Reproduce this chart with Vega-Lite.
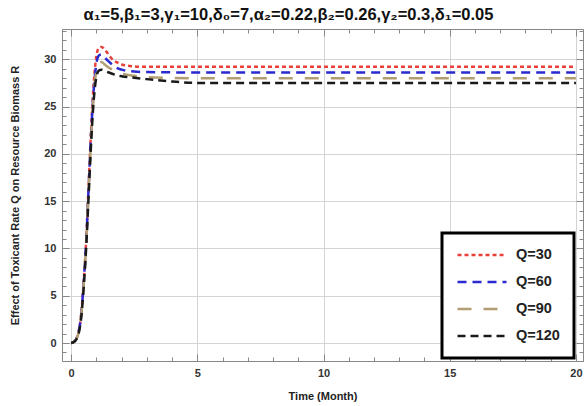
{
  "$schema": "https://vega.github.io/schema/vega-lite/v6.json",
  "autosize": {"type": "none"},
  "width": 521,
  "height": 332,
  "padding": {"left": 62, "top": 29, "right": 4, "bottom": 45},
  "background": "white",
  "title": {
    "text": "α₁=5,β₁=3,γ₁=10,δ₀=7,α₂=0.22,β₂=0.26,γ₂=0.3,δ₁=0.05",
    "font": "Liberation Sans",
    "fontSize": 16.5,
    "fontWeight": "bold",
    "color": "#111",
    "offset": 5,
    "dx": -34,
    "anchor": "middle"
  },
  "config": {
    "view": {"stroke": "#888", "strokeWidth": 1},
    "axis": {
      "labelFont": "Liberation Sans",
      "labelFontWeight": "bold",
      "labelFontSize": 11,
      "labelColor": "#333",
      "titleFont": "Liberation Sans",
      "titleFontWeight": "bold",
      "titleFontSize": 11,
      "titleColor": "#222",
      "domainColor": "#888",
      "tickColor": "#888",
      "gridColor": "#d4d4d4"
    }
  },
  "data": {"values": [
    {"t":0,"R":0,"Q":"Q=30"},{"t":0.1,"R":0.1,"Q":"Q=30"},{"t":0.2,"R":0.4,"Q":"Q=30"},{"t":0.3,"R":1.2,"Q":"Q=30"},{"t":0.4,"R":3,"Q":"Q=30"},{"t":0.5,"R":6.5,"Q":"Q=30"},{"t":0.6,"R":11,"Q":"Q=30"},{"t":0.7,"R":17,"Q":"Q=30"},{"t":0.8,"R":23,"Q":"Q=30"},{"t":0.9,"R":27.6,"Q":"Q=30"},{"t":1.0,"R":30.3,"Q":"Q=30"},{"t":1.1,"R":31.2,"Q":"Q=30"},{"t":1.2,"R":31.3,"Q":"Q=30"},{"t":1.4,"R":30.8,"Q":"Q=30"},{"t":1.6,"R":30.1,"Q":"Q=30"},{"t":1.8,"R":29.7,"Q":"Q=30"},{"t":2.0,"R":29.45,"Q":"Q=30"},{"t":2.5,"R":29.25,"Q":"Q=30"},{"t":3,"R":29.2,"Q":"Q=30"},{"t":5,"R":29.2,"Q":"Q=30"},{"t":20,"R":29.2,"Q":"Q=30"},
    {"t":0,"R":0,"Q":"Q=60"},{"t":0.1,"R":0.1,"Q":"Q=60"},{"t":0.2,"R":0.4,"Q":"Q=60"},{"t":0.3,"R":1.2,"Q":"Q=60"},{"t":0.4,"R":3,"Q":"Q=60"},{"t":0.5,"R":6.4,"Q":"Q=60"},{"t":0.6,"R":10.8,"Q":"Q=60"},{"t":0.7,"R":16.7,"Q":"Q=60"},{"t":0.8,"R":22.5,"Q":"Q=60"},{"t":0.9,"R":26.9,"Q":"Q=60"},{"t":1.0,"R":29.5,"Q":"Q=60"},{"t":1.1,"R":30.4,"Q":"Q=60"},{"t":1.2,"R":30.5,"Q":"Q=60"},{"t":1.4,"R":30.0,"Q":"Q=60"},{"t":1.6,"R":29.5,"Q":"Q=60"},{"t":1.8,"R":29.1,"Q":"Q=60"},{"t":2.0,"R":28.9,"Q":"Q=60"},{"t":2.5,"R":28.7,"Q":"Q=60"},{"t":3,"R":28.65,"Q":"Q=60"},{"t":5,"R":28.6,"Q":"Q=60"},{"t":20,"R":28.6,"Q":"Q=60"},
    {"t":0,"R":0,"Q":"Q=90"},{"t":0.1,"R":0.1,"Q":"Q=90"},{"t":0.2,"R":0.4,"Q":"Q=90"},{"t":0.3,"R":1.1,"Q":"Q=90"},{"t":0.4,"R":2.9,"Q":"Q=90"},{"t":0.5,"R":6.2,"Q":"Q=90"},{"t":0.6,"R":10.5,"Q":"Q=90"},{"t":0.7,"R":16.3,"Q":"Q=90"},{"t":0.8,"R":22,"Q":"Q=90"},{"t":0.9,"R":26.3,"Q":"Q=90"},{"t":1.0,"R":28.8,"Q":"Q=90"},{"t":1.1,"R":29.6,"Q":"Q=90"},{"t":1.2,"R":29.7,"Q":"Q=90"},{"t":1.4,"R":29.3,"Q":"Q=90"},{"t":1.6,"R":28.95,"Q":"Q=90"},{"t":1.8,"R":28.7,"Q":"Q=90"},{"t":2.0,"R":28.5,"Q":"Q=90"},{"t":2.5,"R":28.25,"Q":"Q=90"},{"t":3,"R":28.1,"Q":"Q=90"},{"t":4,"R":28.02,"Q":"Q=90"},{"t":5,"R":28.0,"Q":"Q=90"},{"t":20,"R":28.0,"Q":"Q=90"},
    {"t":0,"R":0,"Q":"Q=120"},{"t":0.1,"R":0.1,"Q":"Q=120"},{"t":0.2,"R":0.35,"Q":"Q=120"},{"t":0.3,"R":1.0,"Q":"Q=120"},{"t":0.4,"R":2.7,"Q":"Q=120"},{"t":0.5,"R":5.9,"Q":"Q=120"},{"t":0.6,"R":10.2,"Q":"Q=120"},{"t":0.7,"R":15.9,"Q":"Q=120"},{"t":0.8,"R":21.5,"Q":"Q=120"},{"t":0.9,"R":25.8,"Q":"Q=120"},{"t":1.0,"R":28.1,"Q":"Q=120"},{"t":1.1,"R":28.8,"Q":"Q=120"},{"t":1.2,"R":28.9,"Q":"Q=120"},{"t":1.4,"R":28.7,"Q":"Q=120"},{"t":1.6,"R":28.5,"Q":"Q=120"},{"t":1.8,"R":28.3,"Q":"Q=120"},{"t":2.0,"R":28.2,"Q":"Q=120"},{"t":2.5,"R":28.05,"Q":"Q=120"},{"t":3,"R":27.9,"Q":"Q=120"},{"t":4,"R":27.65,"Q":"Q=120"},{"t":5,"R":27.5,"Q":"Q=120"},{"t":20,"R":27.5,"Q":"Q=120"}
  ]},
  "layer": [
    {
      "mark": {"type": "line", "interpolate": "monotone", "strokeWidth": 2.5, "clip": true},
      "encoding": {
        "x": {
          "field": "t", "type": "quantitative",
          "scale": {"domain": [-0.36, 20.28], "nice": false, "zero": false},
          "axis": {
            "title": "Time (Month)",
            "titlePadding": 12,
            "values": [0,1,2,3,4,5,6,7,8,9,10,11,12,13,14,15,16,17,18,19,20],
            "labelExpr": "datum.value % 5 === 0 ? datum.label : ''",
            "tickSize": {"condition": {"test": "datum.value % 5 === 0", "value": -7}, "value": -4},
            "gridOpacity": {"condition": {"test": "datum.value % 5 === 0", "value": 1}, "value": 0},
            "labelPadding": 13,
            "grid": true
          }
        },
        "y": {
          "field": "R", "type": "quantitative",
          "scale": {"domain": [-1.9, 33.2], "nice": false, "zero": false},
          "axis": {
            "title": "Effect of Toxicant Rate Q on Resource Biomass R",
            "titlePadding": 23,
            "values": [-1,0,1,2,3,4,5,6,7,8,9,10,11,12,13,14,15,16,17,18,19,20,21,22,23,24,25,26,27,28,29,30,31,32,33],
            "labelExpr": "datum.value % 5 === 0 ? datum.label : ''",
            "tickSize": {"condition": {"test": "datum.value % 5 === 0", "value": -7}, "value": -4},
            "gridOpacity": {"condition": {"test": "datum.value % 5 === 0", "value": 1}, "value": 0},
            "labelPadding": 13,
            "grid": true
          }
        },
        "color": {
          "field": "Q", "type": "nominal",
          "scale": {"domain": ["Q=30","Q=60","Q=90","Q=120"], "range": ["#e8403a","#2a2ad0","#b39d72","#1a1a1a"]},
          "legend": {
            "title": null,
            "orient": "none",
            "legendX": 380,
            "legendY": 204,
            "strokeColor": "#000",
            "fillColor": "white",
            "padding": 14,
            "rowPadding": 11,
            "clipHeight": 16,
            "symbolType": "stroke",
            "symbolSize": 2400,
            "symbolStrokeWidth": 2.5,
            "labelFont": "Liberation Sans",
            "labelFontWeight": "bold",
            "labelFontSize": 14.5,
            "labelColor": "#222",
            "labelOffset": 8,
            "labelLimit": 80,
            "encode": {"legend": {"update": {"strokeWidth": {"value": 3}}}}
          }
        },
        "strokeDash": {
          "field": "Q", "type": "nominal",
          "scale": {"domain": ["Q=30","Q=60","Q=90","Q=120"], "range": [[4,3],[9,6],[14,12],[8,5]]},
          "legend": null
        }
      }
    },
    {
      "mark": {"type": "point", "opacity": 0},
      "encoding": {
        "x": {
          "field": "t", "type": "quantitative",
          "scale": {"domain": [-0.36, 20.28], "nice": false, "zero": false},
          "axis": {
            "orient": "top", "title": null, "labels": false, "grid": false,
            "values": [0,1,2,3,4,5,6,7,8,9,10,11,12,13,14,15,16,17,18,19,20],
            "tickSize": {"condition": {"test": "datum.value % 5 === 0", "value": -7}, "value": -4}
          }
        },
        "y": {
          "field": "R", "type": "quantitative",
          "scale": {"domain": [-1.9, 33.2], "nice": false, "zero": false},
          "axis": {
            "orient": "right", "title": null, "labels": false, "grid": false,
            "values": [-1,0,1,2,3,4,5,6,7,8,9,10,11,12,13,14,15,16,17,18,19,20,21,22,23,24,25,26,27,28,29,30,31,32,33],
            "tickSize": {"condition": {"test": "datum.value % 5 === 0", "value": -7}, "value": -4}
          }
        }
      }
    }
  ],
  "resolve": {"axis": {"x": "independent", "y": "independent"}}
}
